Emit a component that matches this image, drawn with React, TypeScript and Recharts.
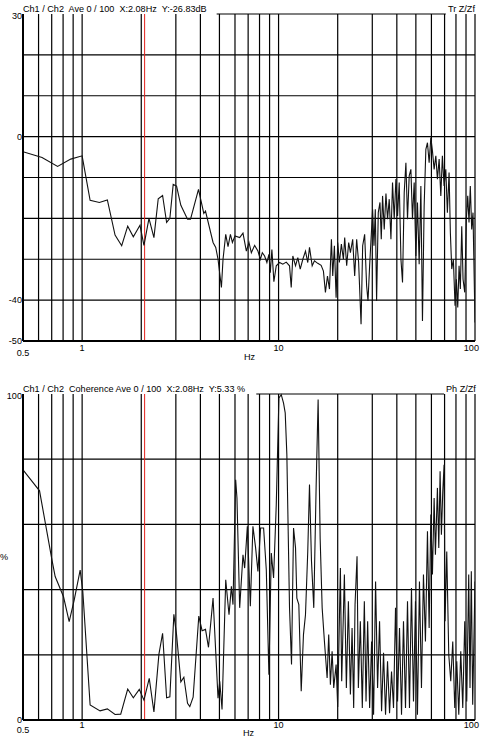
import { LineChart, Line, XAxis, YAxis, CartesianGrid, ReferenceLine } from "recharts";

// frequency grid (Hz) and which of them carry a label
const gridFreqs = [0.5, 0.6, 0.7, 0.8, 0.9, 1, 2, 3, 4, 5, 6, 7, 8, 9, 10, 20, 30, 40, 50, 60, 70, 80, 90, 100];
const freqLabels = [0.5, 1, 10, 100];

const trLevels = [-50, -40, -30, -20, -10, 0, 10, 20, 30];
const trLabels = [30, 0, -40, -50];
const cohLevels = [0, 20, 40, 60, 80, 100];
const cohLabels = [0, 100];

const cursorHz = 2.08;

// Tr Z/Zf, dB
const trFreq = [
  0.5, 0.625, 0.75, 0.875, 1.0, 1.098, 1.224, 1.344, 1.471, 1.59, 1.706, 1.822, 1.97, 2.064, 2.189, 2.32,
  2.44, 2.568, 2.692, 2.797, 2.908, 3.025, 3.181, 3.44, 3.563, 3.912, 4.163, 4.246, 4.64, 4.788, 4.918,
  5.118, 5.215, 5.383, 5.529, 5.687, 5.821, 6.0, 6.339, 6.589, 6.855, 7.068, 7.267, 7.554, 7.851, 8.075,
  8.267, 8.49, 8.722, 8.929, 9.076, 9.247, 9.465, 9.734, 10.12, 10.51, 10.94, 11.37, 11.6, 11.82, 12.2,
  12.53, 12.89, 13.29, 13.71, 14.08, 14.37, 14.83, 15.23, 15.83, 16.47, 16.92, 17.32, 17.74, 18.16, 18.58,
  18.87, 19.24, 19.63, 20.0, 20.4, 20.88, 21.38, 21.71, 22.22, 22.75, 23.21, 23.84, 24.4, 24.98, 25.56,
  26.3, 26.8, 27.43, 28.07, 28.53, 29.08, 29.66, 30.11, 30.6, 31.08, 31.55, 32.18, 32.83, 33.33, 33.84,
  34.51, 35.21, 35.87, 36.59, 37.33, 38.03, 38.79, 39.57, 40.34, 41.14, 41.97, 42.76, 43.62, 44.49, 45.33,
  46.24, 47.16, 48.05, 49.02, 50.0, 50.95, 51.97, 53.02, 54.02, 55.1, 56.21, 57.28, 58.42, 59.59, 60.72,
  61.94, 63.18, 64.37, 65.68, 66.99, 68.23, 69.6, 71.01, 72.34, 73.79, 74.92, 76.15, 77.59, 79.15, 80.37,
  81.69, 82.96, 84.22, 85.61, 86.93, 88.67, 90.34, 91.83, 93.23, 94.65, 96.21, 97.68, 100,
];
const trDb = [
  -3.7, -5.1, -7.3, -5.5, -4.7, -15.6, -16.1, -15.5, -24.1, -26.7, -21.9, -24.5, -21.7, -26.6, -20.0, -24.7,
  -15.2, -14.4, -21.0, -20.0, -11.7, -12.1, -16.8, -20.2, -20.2, -12.9, -18.8, -18.2, -25.9, -27.1, -30.0,
  -36.9, -30.0, -23.9, -26.9, -23.9, -25.9, -24.3, -24.7, -23.6, -28.0, -25.9, -28.4, -26.6, -28.0, -30.0,
  -28.4, -29.2, -30.8, -28.8, -33.3, -27.6, -35.5, -31.6, -30.8, -31.2, -30.7, -31.6, -36.9, -29.2, -31.6,
  -29.6, -32.4, -30.0, -28.0, -30.8, -27.1, -31.6, -30.4, -31.0, -31.5, -32.9, -38.1, -34.1, -37.3, -25.1,
  -34.1, -26.7, -39.4, -25.9, -30.8, -26.3, -30.0, -24.7, -31.6, -25.9, -28.4, -25.1, -34.1, -25.1, -30.8,
  -45.9, -26.7, -23.9, -36.5, -40.2, -31.6, -23.9, -17.8, -26.7, -17.8, -40.2, -18.6, -16.1, -25.1, -14.5,
  -22.7, -13.9, -20.2, -15.3, -25.1, -11.2, -20.2, -10.4, -19.4, -11.2, -30.0, -35.7, -13.7, -6.4, -20.2,
  -9.6, -8.0, -20.2, -11.2, -29.2, -16.1, -31.2, -12.1, -45.1, -17.0, -3.1, -1.5, -6.4, -0.2, -3.5,
  -8.0, -4.7, -10.4, -5.5, -14.5, -4.7, -12.1, -8.0, -18.6, -8.8, -23.5, -32.4, -30.0, -41.4, -34.9,
  -41.8, -31.6, -37.3, -21.9, -34.9, -38.1, -20.2, -14.5, -21.0, -12.1, -22.7, -18.6, -45.5,
];

// Coherence, %
const cohFreq = [
  0.5, 0.607, 0.702, 0.729, 0.804, 0.859, 0.911, 0.977, 1.008, 1.098, 1.234, 1.344, 1.471, 1.572, 1.706,
  1.822, 1.954, 2.064, 2.196, 2.32, 2.46, 2.568, 2.692, 2.797, 2.931, 3.025, 3.181, 3.295, 3.44, 3.533,
  3.673, 3.926, 4.08, 4.246, 4.398, 4.64, 4.918, 5.018, 5.155, 5.383, 5.594, 5.753, 5.861, 6.048, 6.14,
  6.339, 6.589, 6.721, 6.936, 7.183, 7.404, 7.641, 7.851, 8.1, 8.391, 8.66, 8.929, 9.183, 9.432, 9.734,
  10.04, 10.32, 10.6, 10.81, 11.02, 11.37, 11.64, 11.92, 12.2, 12.39, 12.68, 13.04, 13.39, 13.71, 14.08,
  14.37, 14.71, 15.11, 15.54, 15.9, 16.28, 16.67, 17.12, 17.67, 18.0, 18.36, 18.73, 19.09, 19.63, 20.0,
  20.64, 20.96, 21.63, 22.14, 22.67, 23.21, 23.67, 24.12, 24.51, 25.09, 25.48, 26.08, 26.69, 27.33, 27.88,
  28.41, 29.08, 29.76, 30.46, 31.18, 31.92, 32.67, 33.45, 34.23, 35.04, 35.87, 36.73, 37.59, 38.48, 39.39,
  40.34, 41.28, 42.26, 43.25, 44.28, 45.33, 46.39, 47.49, 48.62, 49.77, 50.95, 52.15, 53.39, 54.65, 55.94,
  57.28, 58.42, 59.59, 60.72, 61.94, 62.88, 64.37, 65.41, 66.42, 67.44, 68.55, 69.6, 70.41, 71.82, 73.53,
  75.26, 77.05, 78.88, 80.76, 82.68, 84.63, 86.63, 88.67, 90.77, 92.9, 94.32, 95.77, 97.34, 100,
];
const cohPct = [
  76.7, 70.3, 49.1, 44.0, 37.8, 30.2, 36.8, 46.0, 39.4, 4.6, 2.8, 3.4, 1.7, 1.8, 9.5,
  6.8, 9.4, 6.1, 12.8, 2.5, 20.2, 26.6, 6.8, 7.1, 32.4, 26.1, 11.7, 13.1, 5.1, 4.1,
  7.0, 31.9, 27.4, 27.8, 22.3, 37.4, 6.7, 11.9, 3.2, 43.0, 32.3, 41.0, 35.4, 73.7, 68.1,
  34.4, 50.7, 46.6, 59.4, 34.9, 59.4, 52.8, 45.6, 58.9, 58.9, 46.1, 13.9, 51.2, 43.6, 66.0,
  98.8, 99.8, 97.2, 94.2, 81.4, 34.4, 17.0, 58.9, 52.8, 37.4, 35.4, 8.8, 26.2, 32.3, 51.7,
  72.2, 48.7, 34.4, 72.2, 98.3, 55.8, 34.4, 24.1, 12.9, 26.2, 10.8, 21.1, 9.8, 17.0, 4.0,
  46.6, 11.9, 44.6, 9.8, 36.4, 7.8, 28.2, 3.7, 35.4, 50.2, 9.8, 30.3, 3.7, 36.4, 5.7,
  30.3, 3.7, 24.1, 1.6, 42.5, 9.8, 30.3, 2.7, 20.6, 1.6, 18.0, 2.1, 14.9, 3.7, 34.4,
  5.7, 28.2, 1.6, 30.3, 3.7, 36.4, 3.7, 40.5, 5.7, 36.4, 1.6, 42.5, 9.8, 44.6, 24.1,
  57.9, 28.2, 63.0, 44.6, 68.1, 50.7, 71.2, 52.8, 76.3, 56.8, 70.2, 78.3, 30.3, 51.7, 20.0,
  11.9, 24.1, 3.7, 18.0, 1.6, 21.1, 3.7, 30.3, 5.7, 44.6, 9.8, 45.6, 4.7, 42.5,
];

const trData = trFreq.map((f, i) => ({ f, v: trDb[i] }));
const cohData = cohFreq.map((f, i) => ({ f, v: cohPct[i] }));

const FONT = "'Liberation Sans', Arial, sans-serif";
const FS = 9.1;
const ink = "#000";

const makeFreqTick = (lift: number) => (props: any) => {
  const { x, y, payload } = props;
  const v = payload.value;
  if (!freqLabels.includes(v)) return <g />;
  const anchor = v === 100 ? "end" : "middle";
  const dx = v === 100 ? 4 : 0;
  const dy = v === 0.5 ? lift + 5 : lift;
  return (
    <text x={x + dx} y={y + dy} textAnchor={anchor} fontSize={FS} fontFamily={FONT} fill={ink}>
      {v}
    </text>
  );
};

const makeLevelTick = (labels: number[], top: number) => (props: any) => {
  const { x, y, payload } = props;
  const v = payload.value;
  if (!labels.includes(v)) return <g />;
  return (
    <text x={x} y={y + (v === top ? 5 : 3.3)} textAnchor="end" fontSize={FS} fontFamily={FONT} fill={ink}>
      {v}
    </text>
  );
};

const Panel = ({ data, domain, levels, labels, borderFrom, borderTo, axisH, lift }: any) => (
  <LineChart width={483} height={363} data={data} margin={{ top: 14, right: 8, bottom: 0, left: 0 }}>
    <CartesianGrid
      stroke={ink}
      strokeWidth={1.2}
      verticalValues={gridFreqs}
      horizontalValues={levels.filter((l: number) => l !== domain[1])}
    />
    <XAxis
      dataKey="f"
      type="number"
      scale="log"
      domain={[0.5, 100]}
      ticks={gridFreqs}
      interval={0}
      allowDataOverflow
      height={axisH}
      tickSize={0}
      tickMargin={0}
      tickLine={false}
      axisLine={{ stroke: ink, strokeWidth: 2 }}
      tick={makeFreqTick(lift)}
    />
    <YAxis
      type="number"
      domain={domain}
      ticks={levels}
      interval={0}
      width={23}
      tickSize={0}
      tickMargin={1}
      tickLine={false}
      axisLine={{ stroke: ink, strokeWidth: 2 }}
      tick={makeLevelTick(labels, domain[1])}
    />
    <ReferenceLine
      segment={[{ x: borderFrom, y: domain[1] }, { x: borderTo, y: domain[1] }]}
      stroke={ink}
      strokeWidth={1.2}
    />
    <ReferenceLine x={cursorHz} stroke="#e3211c" strokeWidth={1} />
    <Line
      type="linear"
      dataKey="v"
      stroke="#111"
      strokeWidth={1.1}
      dot={false}
      isAnimationActive={false}
    />
  </LineChart>
);

const txt = (extra: any) => ({
  position: "absolute" as const,
  fontFamily: FONT,
  fontSize: FS,
  lineHeight: "10px",
  color: ink,
  whiteSpace: "pre" as const,
  ...extra,
});

export default function App() {
  return (
    <div style={{ position: "absolute", left: 0, top: 0, width: 483, height: 743, background: "#fff" }}>
      <div style={{ position: "absolute", left: 0, top: 0 }}>
        <Panel data={trData} domain={[-50, 30]} levels={trLevels} labels={trLabels}
          borderFrom={4.84} borderTo={71} axisH={22} lift={9.5} />
      </div>
      <div style={{ position: "absolute", left: 0, top: 380 }}>
        <Panel data={cohData} domain={[0, 100]} levels={cohLevels} labels={cohLabels}
          borderFrom={7.7} borderTo={69.6} axisH={23} lift={8} />
      </div>

      <span style={txt({ left: 23, top: 4 })}>Ch1 / Ch2  Ave 0 / 100  X:2.08Hz  Y:-26.83dB</span>
      <span style={txt({ left: 448, top: 4 })}>Tr Z/Zf</span>
      <span style={txt({ left: 244, top: 352 })}>Hz</span>

      <span style={txt({ left: 23, top: 384 })}>Ch1 / Ch2  Coherence Ave 0 / 100  X:2.08Hz  Y:5.33 %</span>
      <span style={txt({ left: 446, top: 384 })}>Ph Z/Zf</span>
      <span style={txt({ left: 0, top: 552 })}>%</span>
      <span style={txt({ left: 243, top: 728 })}>Hz</span>
    </div>
  );
}
